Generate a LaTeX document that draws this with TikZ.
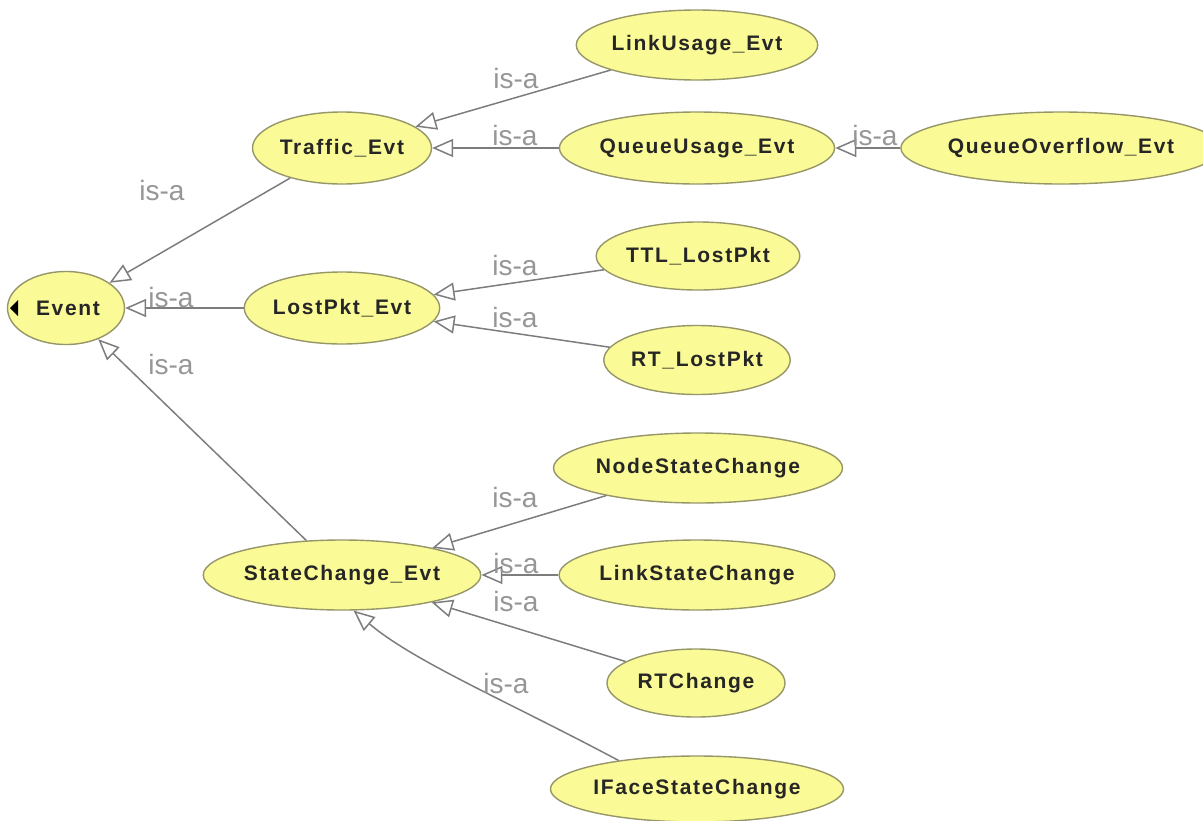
\documentclass[tikz,border=0pt]{standalone}
\usepackage{fontspec}
\setmainfont{Liberation Sans}
\newfontfamily\nodefont[LetterSpace=8]{Liberation Sans}
\usetikzlibrary{shapes.geometric,arrows.meta}
\definecolor{clsfill}{RGB}{250,250,150}
\definecolor{clsline}{RGB}{150,150,105}
\definecolor{edgegray}{RGB}{125,125,125}
\definecolor{lblgray}{RGB}{150,150,150}

\begin{document}
\begin{tikzpicture}[x=1pt,y=-1pt,
  cls/.style={ellipse, draw=clsline, fill=clsfill, line width=1.4pt, inner sep=0pt,
    font=\nodefont\bfseries\fontsize{21}{24}\selectfont, text=black!85},
  isa/.style={draw=edgegray, line width=1.5pt,
    -{Triangle[open,length=21pt,width=18pt,fill=white]}},
  lbl/.style={font=\fontsize{28}{30}\selectfont, text=lblgray, inner sep=0pt}]
\useasboundingbox (0,0) rectangle (1203,820);

% class nodes
\node[cls, minimum width=117pt, minimum height=73pt] (event) at (66,308) {\hspace*{4pt}Event};
\node[cls, minimum width=179pt, minimum height=72pt] (traffic) at (342,148) {Traffic\_Evt};
\node[cls, minimum width=221pt, minimum height=70pt] (linkusage) at (697,45) {LinkUsage\_Evt};
\node[cls, minimum width=250pt, minimum height=72pt] (queueusage) at (697,148) {QueueUsage\_Evt};
\node[cls, minimum width=278pt, minimum height=72pt] (queueoverflow) at (1061,148) {QueueOverflow\_Evt};
\node[cls, minimum width=180pt, minimum height=72pt] (lostpkt) at (342,308) {LostPkt\_Evt};
\node[cls, minimum width=187pt, minimum height=68pt] (ttl) at (698,256) {TTL\_LostPkt};
\node[cls, minimum width=177pt, minimum height=69pt] (rtlost) at (697,360) {RT\_LostPkt};
\node[cls, minimum width=260pt, minimum height=70pt] (nodesc) at (698,468) {NodeStateChange};
\node[cls, minimum width=251pt, minimum height=70pt] (sc) at (342,575) {StateChange\_Evt};
\node[cls, minimum width=249pt, minimum height=70pt] (linksc) at (697,575) {LinkStateChange};
\node[cls, minimum width=178pt, minimum height=68pt] (rtchange) at (696,683) {RTChange};
\node[cls, minimum width=268pt, minimum height=66pt] (iface) at (697,789) {IFaceStateChange};

% collapse marker on the root class
\fill (10,308) -- (18,300) -- (18,316) -- cycle;

% subclass links
\draw[isa] (traffic) -- (event);
\draw[isa] (lostpkt) -- (event);
\draw[isa] (sc) -- (event);
\draw[isa] (linkusage) -- (traffic);
\draw[isa] (queueusage) -- (traffic);
\draw[isa] (queueoverflow) -- (queueusage);
\draw[isa] (ttl) -- (lostpkt);
\draw[isa] (rtlost) -- (lostpkt);
\draw[isa] (nodesc) -- (sc);
\draw[isa] (linksc) -- (sc);
\draw[isa] (rtchange) -- (sc);
\draw[isa] (iface.160) .. controls +(-152:130) and +(40:80) .. (sc.-72);

% link labels
\node[lbl] (l1) at (162,190) {is-a};
\node[lbl] (l2) at (171,297) {is-a};
\node[lbl] (l3) at (171,364) {is-a};
\node[lbl] (l4) at (516,78) {is-a};
\node[lbl] (l5) at (515,135) {is-a};
\node[lbl] (l6) at (875,135) {is-a};
\node[lbl] (l7) at (515,265) {is-a};
\node[lbl] (l8) at (515,317) {is-a};
\node[lbl] (l9) at (515,497) {is-a};
\node[lbl] (l10) at (516,563) {is-a};
\node[lbl] (l11) at (516,601) {is-a};
\node[lbl] (l12) at (506,683) {is-a};
\end{tikzpicture}
\end{document}
